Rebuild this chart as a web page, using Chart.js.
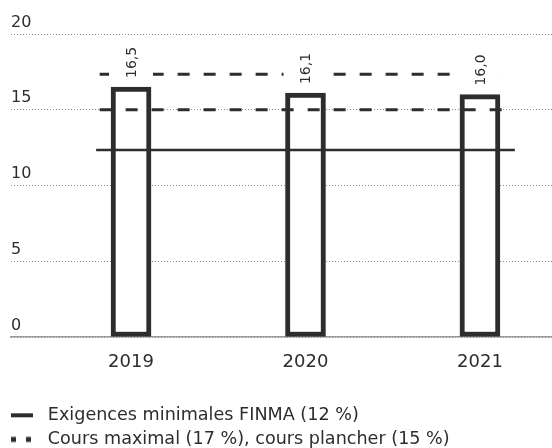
<!DOCTYPE html>
<html lang="fr">
<head>
    <meta charset="UTF-8">
    <title>Ratio de fonds propres</title>
    <script src="https://cdn.jsdelivr.net/npm/chart.js"></script>
    <style>
        body { margin: 0; background: #fff; }
        #wrap { width: 552px; height: 448px; }
    </style>
</head>
<body>
    <div id="wrap"><canvas id="chart"></canvas></div>
    <script>
        const years = ['2019', '2020', '2021'];
        const ratios = [16.5, 16.1, 16.0];
        const minLevel = [12.35, 12.35];       // Exigences minimales FINMA
        const capLevel = [17.35, 17.35];       // Cours maximal
        const floorLevel = [15, 15];           // Cours plancher
        const legendTexts = ['Exigences minimales FINMA (12 %)', 'Cours maximal (17 %), cours plancher (15 %)'];

        const ink = '#2d2d2d';
        const font = '"DejaVu Sans", "Open Sans", sans-serif';

        function icon(draw) {
            const c = document.createElement('canvas');
            c.width = 28; c.height = 8;
            const g = c.getContext('2d');
            g.fillStyle = ink;
            draw(g);
            return c;
        }
        const solidIcon = icon(g => g.fillRect(0, 2, 22, 4));
        const dashIcon = icon(g => { g.fillRect(0, 1.5, 5, 5); g.fillRect(15, 1.5, 5, 5); });

        const valueLabels = {
            id: 'valueLabels',
            afterDatasetsDraw(chart) {
                const ctx = chart.ctx;
                const meta = chart.getDatasetMeta(0);
                ctx.save();
                ctx.font = '14px ' + font;
                meta.data.forEach((bar, i) => {
                    const text = ratios[i].toFixed(1).replace('.', ',');
                    const w = ctx.measureText(text).width;
                    ctx.save();
                    ctx.translate(bar.x, bar.y - 9);
                    ctx.rotate(-Math.PI / 2);
                    ctx.fillStyle = '#fff';
                    ctx.fillRect(-2, -22, w + 4, 44);
                    ctx.fillStyle = ink;
                    ctx.textAlign = 'left';
                    ctx.textBaseline = 'middle';
                    ctx.fillText(text, 0, 1);
                    ctx.restore();
                });
                ctx.restore();
            }
        };

        new Chart(document.getElementById('chart'), {
            data: {
                datasets: [{
                    type: 'bar',
                    order: 2,
                    data: ratios.map((v, i) => ({ x: i, y: v })),
                    backgroundColor: '#fff',
                    borderColor: ink,
                    borderWidth: 5,
                    borderSkipped: false,
                    barThickness: 40
                }, {
                    type: 'line',
                    order: 1,
                    data: [{ x: -0.2, y: minLevel[0] }, { x: 2.2, y: minLevel[1] }],
                    borderColor: ink,
                    borderWidth: 2.5,
                    pointRadius: 0
                }, {
                    type: 'line',
                    order: 1,
                    data: [{ x: -0.18, y: capLevel[0] }, { x: 2.15, y: capLevel[1] }],
                    borderColor: ink,
                    borderWidth: 3,
                    borderDash: [12, 14],
                    pointRadius: 0
                }, {
                    type: 'line',
                    order: 1,
                    data: [{ x: -0.18, y: floorLevel[0] }, { x: 2.15, y: floorLevel[1] }],
                    borderColor: ink,
                    borderWidth: 3,
                    borderDash: [12, 14],
                    pointRadius: 0
                }]
            },
            options: {
                responsive: true,
                maintainAspectRatio: false,
                animation: false,
                layout: { padding: { left: 4.5, top: 34, right: 0, bottom: 0 } },
                scales: {
                    x: {
                        type: 'linear',
                        offset: false,
                        min: -0.688,
                        max: 2.413,
                        afterBuildTicks: s => { s.ticks = years.map((_, i) => ({ value: i })); },
                        afterFit: s => { s.height = 63; },
                        grid: { display: false },
                        border: { display: true, color: '#999', width: 1.5 },
                        ticks: {
                            padding: 7,
                            maxRotation: 0,
                            color: ink,
                            font: { family: font, size: 18 },
                            callback: v => years[v]
                        }
                    },
                    y: {
                        min: 0,
                        max: 20,
                        afterFit: s => { s.width = 6.5; },
                        grid: { color: '#8a8a8a', lineWidth: 1, drawTicks: false },
                        border: { display: false, dash: [1, 2] },
                        ticks: {
                            stepSize: 5,
                            mirror: true,
                            padding: 0,
                            labelOffset: -11.5,
                            color: ink,
                            font: { family: font, size: 16 }
                        }
                    }
                },
                plugins: {
                    tooltip: { enabled: false },
                    legend: {
                        position: 'bottom',
                        align: 'start',
                        maxHeight: 48,
                        onClick: null,
                        labels: {
                            usePointStyle: true,
                            pointStyleWidth: 28,
                            padding: 6.5,
                            color: ink,
                            font: { family: font, size: 17.6 },
                            generateLabels: () => [
                                { text: legendTexts[0], pointStyle: solidIcon, fontColor: ink, lineWidth: 0, hidden: false },
                                { text: legendTexts[1], pointStyle: dashIcon, fontColor: ink, lineWidth: 0, hidden: false }
                            ]
                        }
                    }
                }
            },
            plugins: [valueLabels]
        });
    </script>
</body>
</html>
